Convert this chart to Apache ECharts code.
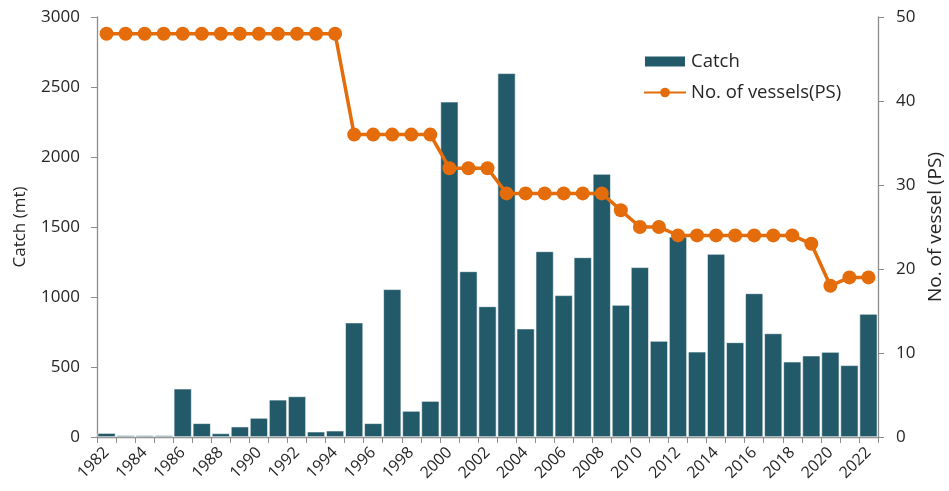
<!DOCTYPE html>
<html><head><meta charset="utf-8">
<script src="https://cdn.jsdelivr.net/npm/echarts@6/dist/echarts.min.js"></script>
<style>html,body{margin:0;padding:0;background:#fff}#c{width:949px;height:491px}</style>
</head><body><div id="c"></div>
<script>
var years = ['1982','1983','1984','1985','1986','1987','1988','1989','1990','1991','1992','1993','1994','1995','1996','1997','1998','1999','2000','2001','2002','2003','2004','2005','2006','2007','2008','2009','2010','2011','2012','2013','2014','2015','2016','2017','2018','2019','2020','2021','2022'];
var catchValues = [28,12,12,12,345,98,26,74,136,266,290,38,45,817,98,1055,186,257,2395,1183,933,2598,774,1326,1012,1283,1879,943,1212,686,1430,609,1307,676,1026,740,538,581,607,512,879];
var vessels = [48,48,48,48,48,48,48,48,48,48,48,48,48,36,36,36,36,36,32,32,32,29,29,29,29,29,29,27,25,25,24,24,24,24,24,24,24,23,18,19,19];
var leftTicks = {min:0, max:3000, interval:500};
var rightTicks = {min:0, max:50, interval:10};

var font = 'Open Sans';
var txt = '#262626';
var chart = echarts.init(document.getElementById('c'));
chart.setOption({
  animation:false,
  textStyle:{fontFamily:font},
  grid:{left:97, right:71, top:17, bottom:54, containLabel:false, outerBoundsMode:'none'},
  legend:{
    orient:'vertical', left:638, top:47, itemGap:12,
    itemWidth:42, itemHeight:12,
    textStyle:{fontSize:18.5, color:txt, fontFamily:font},
    data:[{name:'Catch', icon:'rect'},{name:'No. of vessels(PS)'}]
  },
  xAxis:{
    type:'category', data:years, boundaryGap:true,
    axisLine:{lineStyle:{color:'#8c8c8c', width:1.3}},
    axisTick:{show:true, interval:0, length:6, lineStyle:{color:'#8c8c8c'}},
    axisLabel:{interval:1, rotate:45, fontSize:16, color:txt, margin:13, fontFamily:font, padding:[0,0,0,0]}
  },
  yAxis:[{
    type:'value', min:leftTicks.min, max:leftTicks.max, interval:leftTicks.interval,
    name:'Catch (mt)', nameLocation:'middle', nameGap:68, nameRotate:90,
    nameTextStyle:{fontSize:17, color:txt, fontFamily:font},
    axisLine:{show:true, lineStyle:{color:'#8c8c8c', width:1.3}},
    axisTick:{show:true, length:6, lineStyle:{color:'#8c8c8c'}},
    axisLabel:{fontSize:17, color:txt, margin:17, fontFamily:font, formatter:function(v){return String(v);}},
    splitLine:{show:false}
  },{
    type:'value', min:rightTicks.min, max:rightTicks.max, interval:rightTicks.interval,
    position:'right',
    name:'No. of vessel (PS)', nameLocation:'middle', nameGap:46, nameRotate:90,
    nameTextStyle:{fontSize:19, color:txt, fontFamily:font},
    axisLine:{show:true, lineStyle:{color:'#8c8c8c', width:1.3}},
    axisTick:{show:true, length:6, lineStyle:{color:'#8c8c8c'}},
    axisLabel:{fontSize:17, color:txt, margin:18, fontFamily:font},
    splitLine:{show:false}
  }],
  series:[{
    name:'Catch', type:'bar', data:catchValues, yAxisIndex:0,
    barCategoryGap:'6%',
    itemStyle:{color:'#235A69', borderColor:'#ffffff', borderWidth:0.6}
  },{
    name:'No. of vessels(PS)', type:'line', data:vessels, yAxisIndex:1,
    symbol:'circle', symbolSize:14, showAllSymbol:true,
    lineStyle:{color:'#E46C0A', width:3.5},
    itemStyle:{color:'#E46C0A'}
  }]
});
</script></body></html>
